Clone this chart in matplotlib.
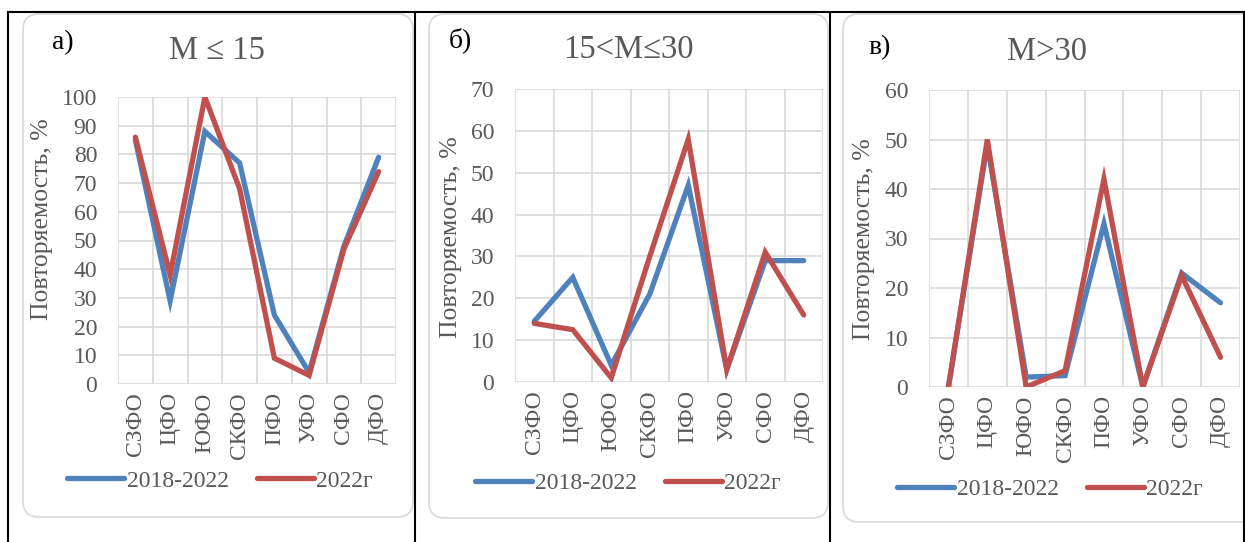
import matplotlib.pyplot as plt
from matplotlib.patches import FancyBboxPatch
from matplotlib.lines import Line2D

plt.rcParams['font.family'] = ['Liberation Serif', 'DejaVu Serif']

regions = ["СЗФО", "ЦФО", "ЮФО", "СКФО", "ПФО", "УФО", "СФО", "ДФО"]
series_names = ["2018-2022", "2022г"]

# M <= 15
a_avg = [85, 29, 88, 77, 24, 4, 48, 79]
a_2022 = [86, 38, 100, 68, 9, 3, 47, 74]
# 15 < M <= 30
b_avg = [14.5, 25, 4, 21, 47, 3, 29, 29]
b_2022 = [14, 12.5, 1, 30, 58, 3, 31, 16]
# M > 30
c_avg = [0, 49, 2, 2.3, 33, 0, 23, 17]
c_2022 = [0, 50, 0, 3.3, 42, 0, 22.5, 6]

panels = [
    ("а)", "M ≤ 15", a_avg, a_2022, 100, 10),
    ("б)", "15<M≤30", b_avg, b_2022, 70, 10),
    ("в)", "M>30", c_avg, c_2022, 60, 10),
]

W, H = 1245, 542
fig = plt.figure(figsize=(W / 100, H / 100), dpi=100)

BLUE = "#4F81BD"
RED = "#C0504D"
GREY = "#595959"
GRID = "#D9D9D9"

# pixel layout: axes box, title, letter, ylabel, legend, frame
layout = [
    dict(ax=(118, 97, 396, 384), title=(217, 51), letter=(63, 43), ylab=(42, 219),
         leg=(220, 481), frame=(23, 14, 413, 517)),
    dict(ax=(515, 89, 823, 382), title=(628, 50), letter=(460, 40), ylab=(451, 237),
         leg=(628, 483), frame=(429, 14, 828, 518)),
    dict(ax=(929, 90, 1240, 387), title=(1047, 52), letter=(880, 48), ylab=(864, 239),
         leg=(1050, 489), frame=(843, 14, 1262, 522)),
]


def fx(x):
    return x / W


def fy(y):
    return 1 - y / H


for (letter, title, avg, cur, ymax, step), lay in zip(panels, layout):
    x0, y0, x1, y1 = lay["frame"]
    # rounded chart frame, drawn in inches so the corners stay round
    frame = FancyBboxPatch((x0 / 100, (H - y1) / 100), (x1 - x0) / 100, (y1 - y0) / 100,
                           boxstyle="round,pad=0,rounding_size=0.16",
                           transform=fig.dpi_scale_trans, facecolor="none",
                           edgecolor="#D9D9D9", linewidth=1.2, zorder=-1)
    fig.patches.append(frame)

    l, t, r, b = lay["ax"]
    ax = fig.add_axes([fx(l), fy(b), fx(r - l), (b - t) / H])
    ax.patch.set_alpha(0)
    xs = range(len(regions))
    ax.plot(xs, avg, color=BLUE, linewidth=3.8, solid_capstyle="round",
            solid_joinstyle="miter", zorder=3)
    ax.plot(xs, cur, color=RED, linewidth=3.8, solid_capstyle="round",
            solid_joinstyle="miter", zorder=4)

    ax.set_xlim(-0.5, len(regions) - 0.5)
    ax.set_ylim(0, ymax)
    ax.set_yticks(range(0, ymax + 1, step))
    ax.set_xticks(list(xs))
    ax.set_xticklabels(regions, rotation=90, fontsize=17, color=GREY)
    ax.tick_params(axis="y", labelsize=17, labelcolor=GREY, length=0, pad=15)
    ax.tick_params(axis="x", length=0, pad=6)
    ax.set_xticks([i - 0.5 for i in range(len(regions) + 1)], minor=True)
    ax.tick_params(which="minor", length=0)
    ax.grid(True, which="major", axis="y", color=GRID, linewidth=1.2)
    ax.grid(True, which="minor", axis="x", color=GRID, linewidth=1.2)
    for s in ax.spines.values():
        s.set_visible(False)
    ax.set_axisbelow(True)

    fig.text(fx(lay["title"][0]), fy(lay["title"][1]), title, fontsize=23.5,
             color=GREY, ha="center", va="center")
    fig.text(fx(lay["letter"][0]), fy(lay["letter"][1]), letter, fontsize=20,
             color="black", ha="center", va="center")
    fig.text(fx(lay["ylab"][0]), fy(lay["ylab"][1]), "Повторяемость, %", fontsize=18.5,
             color=GREY, rotation=90, ha="center", va="center")

    handles = [Line2D([], [], color=BLUE, linewidth=3.8, solid_capstyle="round"),
               Line2D([], [], color=RED, linewidth=3.8, solid_capstyle="round")]
    leg = ax.legend(handles, series_names, ncol=2, loc="center",
                    bbox_to_anchor=(fx(lay["leg"][0]), fy(lay["leg"][1])),
                    bbox_transform=fig.transFigure, frameon=False, fontsize=17,
                    handlelength=2.4, handletextpad=0.1, columnspacing=1.2,
                    borderaxespad=0, borderpad=0)
    for txt in leg.get_texts():
        txt.set_color(GREY)

# table borders
for x in (8, 415, 830, 1244):
    fig.add_artist(Line2D([fx(x), fx(x)], [fy(12), 0], color="black", linewidth=1.5,
                          transform=fig.transFigure))
fig.add_artist(Line2D([fx(8), fx(1245)], [fy(12), fy(12)], color="black", linewidth=1.5,
                      transform=fig.transFigure))

fig.savefig("out.png", dpi=100)
